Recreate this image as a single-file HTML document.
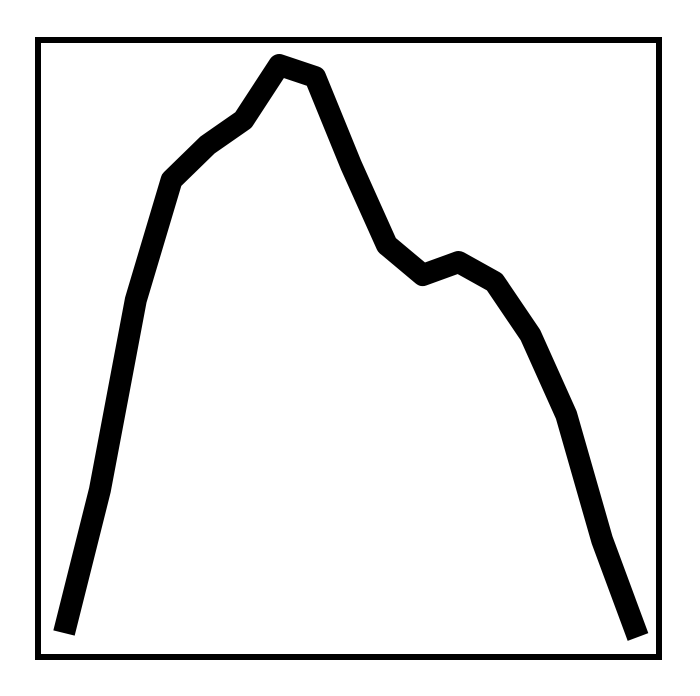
<!DOCTYPE html>
<html>
<head>
<meta charset="utf-8">
<style>
  html, body { margin: 0; padding: 0; background: #fff; }
  svg { display: block; }
</style>
</head>
<body>
<svg id="chart" width="700" height="696" viewBox="0 0 700 696">
  <rect x="38" y="40" width="621" height="617" fill="#fff" stroke="#000" stroke-width="6"/>
  <g id="series"></g>
</svg>
<script>
const categories = [0,1,2,3,4,5,6,7,8,9,10,11,12,13,14,15,16];
const values = [25,168,358,478,513,538,593,581,493,413,383,396,376,323,243,118,21];

const yMin = 0, yMax = 618;
function xScale(i) { return 64 + (i - categories[0]) * (638 - 64) / (categories[categories.length - 1] - categories[0]); }
function yScale(v) { return 658 - (v - yMin) / (yMax - yMin) * (658 - 40); }

const pts = categories.map((c, i) => xScale(c).toFixed(1) + ',' + yScale(values[i]).toFixed(1)).join(' ');
const line = document.createElementNS('http://www.w3.org/2000/svg', 'polyline');
line.setAttribute('points', pts);
line.setAttribute('fill', 'none');
line.setAttribute('stroke', '#000');
line.setAttribute('stroke-width', '22');
line.setAttribute('stroke-linejoin', 'round');


document.getElementById('series').appendChild(line);
</script>
</body>
</html>
